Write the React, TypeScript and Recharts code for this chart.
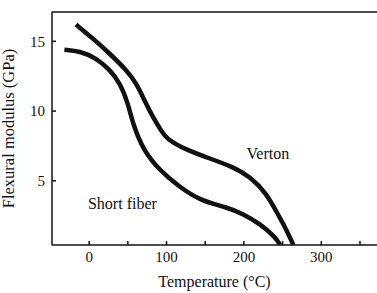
import {
  LineChart,
  Line,
  XAxis,
  YAxis,
  ReferenceLine,
  ReferenceDot,
  Label,
} from 'recharts'

const X_TICKS = [0, 50, 100, 150, 200, 250, 300, 350]
const X_LABELED = [0, 100, 200, 300]
const Y_TICKS = [5, 10, 15]

const vertonTemp = [-17, 5, 26, 48, 61, 72, 82, 93, 100, 126, 156, 186, 208, 229, 242, 251, 259, 264]
const vertonModulus = [16.2, 15.2, 14.15, 12.95, 12.0, 10.7, 9.6, 8.6, 8.0, 7.2, 6.6, 6.0, 5.3, 4.1, 2.8, 1.9, 1.0, 0.4]

const shortTemp = [-32, -12, 9, 27, 40, 50, 57, 70, 91, 117, 143, 178, 199, 221, 240, 247]
const shortModulus = [14.4, 14.3, 13.8, 12.95, 12.0, 10.6, 9.0, 7.2, 5.75, 4.55, 3.6, 3.1, 2.64, 1.9, 1.0, 0.4]

const vertonData = vertonTemp.map((t, i) => ({ t, v: vertonModulus[i] }))
const shortData = shortTemp.map((t, i) => ({ t, v: shortModulus[i] }))

const X_MIN = -48
const X_MAX = 372
const Y_MIN = 0.4
const Y_MAX = 17.1

const FONT = '"Liberation Serif", "DejaVu Serif", serif'
const INK = '#111'

export default function App() {
  return (
    <div style={{ position: 'absolute', left: 0, top: 0, background: '#fff' }}>
      <LineChart
        width={377}
        height={293}
        margin={{ top: 12, right: 0, left: 0, bottom: 0 }}
        style={{ fontFamily: FONT }}
      >
        <XAxis
          type="number"
          dataKey="t"
          domain={[X_MIN, X_MAX]}
          ticks={X_TICKS}
          allowDataOverflow
          height={48}
          stroke={INK}
          strokeWidth={1.5}
          tickSize={-4}
          tickMargin={10}
          tickFormatter={(v: number) => (X_LABELED.includes(v) ? String(v) : '')}
          tick={{ fill: INK, fontSize: 15, fontFamily: FONT }}
        >
          <Label
            value="Temperature (°C)"
            position="insideBottom"
            offset={6}
            style={{ fill: INK, fontSize: 16, fontFamily: FONT }}
          />
        </XAxis>
        <YAxis
          type="number"
          domain={[Y_MIN, Y_MAX]}
          ticks={Y_TICKS}
          allowDataOverflow
          width={52}
          stroke={INK}
          strokeWidth={1.5}
          tickSize={-4}
          tickMargin={11}
          tick={{ fill: INK, fontSize: 15, fontFamily: FONT }}
        >
          <Label
            value="Flexural modulus (GPa)"
            angle={-90}
            position="insideLeft"
            offset={0}
            dx={8}
            style={{ fill: INK, fontSize: 16.5, fontFamily: FONT, textAnchor: 'middle' }}
          />
        </YAxis>
        <ReferenceLine y={Y_MAX} stroke={INK} strokeWidth={1.5} />
        <Line
          data={shortData}
          dataKey="v"
          type="basis"
          stroke={INK}
          strokeWidth={4.5}
          dot={false}
          isAnimationActive={false}
        />
        <Line
          data={vertonData}
          dataKey="v"
          type="basis"
          stroke={INK}
          strokeWidth={4.5}
          dot={false}
          isAnimationActive={false}
        />
        <ReferenceDot
          x={231}
          y={7.0}
          r={0}
          fill="none"
          stroke="none"
          label={{ value: 'Verton', position: 'center', fill: INK, fontSize: 16, fontFamily: FONT }}
        />
        <ReferenceDot
          x={43}
          y={3.4}
          r={0}
          fill="none"
          stroke="none"
          label={{ value: 'Short fiber', position: 'center', fill: INK, fontSize: 16, fontFamily: FONT }}
        />
      </LineChart>
    </div>
  )
}
